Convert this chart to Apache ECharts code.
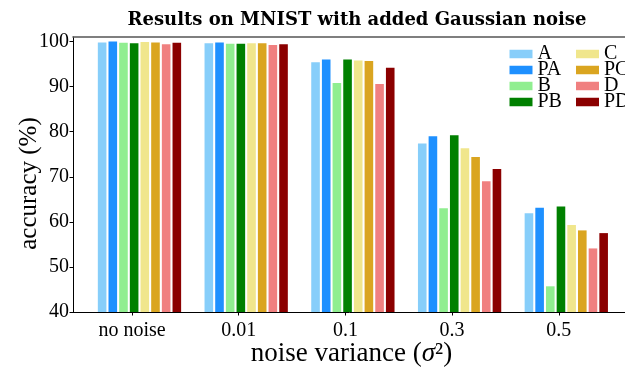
<!DOCTYPE html>
<html>
<head>
<meta charset="utf-8">
<script src="https://cdn.jsdelivr.net/npm/echarts@6/dist/echarts.min.js"></script>
<style>
  html, body { margin: 0; padding: 0; background: #fff; }
  #chart { width: 625px; height: 370px; }
</style>
</head>
<body>
<div id="chart"></div>
<script>
// categories on x, one array of accuracies per method
const categories = ['no noise', '0.01', '0.1', '0.3', '0.5']
const yTicks = [40, 50, 60, 70, 80, 90, 100]

const A  = [99.8, 99.6, 95.4, 77.4, 61.9]
const PA = [100.0, 99.8, 96.0, 79.0, 63.1]
const B  = [99.7, 99.5, 90.8, 63.0, 45.7]
const PB = [99.6, 99.5, 96.0, 79.2, 63.4]
const C  = [99.9, 99.6, 95.8, 76.3, 59.3]
const PC = [99.8, 99.6, 95.7, 74.4, 58.1]
const D  = [99.4, 99.2, 90.6, 69.0, 54.1]
const PD = [99.7, 99.4, 94.2, 71.7, 57.5]

const methods = [
  { name: 'A', data: A, color: '#87CEFA' },
  { name: 'PA', data: PA, color: '#1E90FF' },
  { name: 'B', data: B, color: '#90EE90' },
  { name: 'PB', data: PB, color: '#008000' },
  { name: 'C', data: C, color: '#F0E68C' },
  { name: 'PC', data: PC, color: '#DAA520' },
  { name: 'D', data: D, color: '#F08080' },
  { name: 'PD', data: PD, color: '#8B0000' }
]

const serif = 'Liberation Serif'
const barStep = 0.1 // bar width in category units, like matplotlib
const xMin = -0.553
const xMax = 4.667

const series = methods.map((m, i) => ({
  name: m.name,
  type: 'bar',
  barWidth: 8.6,
  barGap: '-100%',
  itemStyle: { color: m.color },
  // each method shifted inside its group
  data: m.data.map((v, k) => [k + (i - 2.8) * barStep, v])
}))

const legendBase = {
  orient: 'vertical',
  padding: 0,
  itemWidth: 23,
  itemHeight: 8.5,
  itemGap: -4,
  icon: 'rect',
  textStyle: { fontFamily: serif, fontSize: 20, color: '#000' }
}

const chart = echarts.init(document.getElementById('chart'), null, { renderer: 'canvas' })
chart.setOption({
  animation: false,
  backgroundColor: '#fff',
  title: {
    text: 'Results on MNIST with added Gaussian noise',
    left: 352,
    top: 6,
    textAlign: 'center',
    textStyle: { fontFamily: 'DejaVu Serif', fontWeight: 'bold', fontSize: 18, color: '#000' }
  },
  legend: [
    { ...legendBase, left: 509.5, top: 44, data: ['A', 'PA', 'B', 'PB'] },
    { ...legendBase, left: 576, top: 44, data: ['C', 'PC', 'D', 'PD'] }
  ],
  grid: { left: 73, top: 37, width: 557, bottom: 58, containLabel: false, outerBoundsMode: 'none' },
  xAxis: [
    {
      type: 'value',
      min: xMin,
      max: xMax,
      name: '{n|noise variance (}{s|σ}{n|²)}',
      nameLocation: 'middle',
      nameGap: 28,
      nameMoveOverlap: false,
      nameTextStyle: {
        rich: {
          n: { fontFamily: serif, fontSize: 27, color: '#000' },
          s: { fontFamily: serif, fontSize: 27, fontStyle: 'italic', color: '#000' }
        }
      },
      axisLine: { onZero: false, lineStyle: { color: '#000', width: 1 } },
      axisTick: { show: true, length: 3.5, customValues: [0, 1, 2, 3, 4], lineStyle: { color: '#000' } },
      axisLabel: {
        customValues: [0, 1, 2, 3, 4],
        formatter: (v) => categories[Math.round(v)],
        margin: 9,
        fontFamily: serif,
        fontSize: 20,
        color: '#000'
      },
      splitLine: { show: false }
    },
    {
      // top spine
      type: 'value',
      position: 'top',
      min: xMin,
      max: xMax,
      axisLine: { onZero: false, lineStyle: { color: '#555', width: 1.6 } },
      axisTick: { show: false },
      axisLabel: { show: false },
      splitLine: { show: false }
    }
  ],
  yAxis: {
    type: 'value',
    min: 40,
    max: 101,
    startValue: 40,
    name: 'accuracy (%)',
    nameLocation: 'middle',
    nameGap: 31,
    nameMoveOverlap: false,
    nameTextStyle: { fontFamily: serif, fontSize: 25, color: '#000', padding: [0, 18, 0, 0] },
    axisLine: { show: true, onZero: false, lineStyle: { color: '#000', width: 1 } },
    axisTick: { show: true, length: 3.5, customValues: yTicks, lineStyle: { color: '#000' } },
    axisLabel: {
      customValues: yTicks,
      margin: 4,
      fontFamily: serif,
      fontSize: 20,
      color: '#000'
    },
    splitLine: { show: false }
  },
  series: series
})
</script>
</body>
</html>
